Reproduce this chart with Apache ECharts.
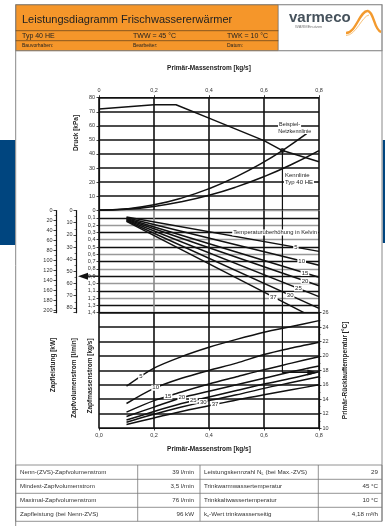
<!DOCTYPE html>
<html>
<head>
<meta charset="utf-8">
<script src="https://cdn.jsdelivr.net/npm/echarts@6/dist/echarts.min.js"></script>
<style>
  html, body { margin: 0; padding: 0; background: #fff; }
  #chart { width: 385px; height: 526px; }
</style>
</head>
<body>
<div id="chart"></div>
<script>
const FONT = '"Liberation Sans", Arial, sans-serif';
const INK = '#111';
const TXT = '#333';

// pressure diagram (kPa over primary mass flow)
const pumpX = [0, 0.2, 0.28, 0.4, 0.5, 0.6, 0.667, 0.8];
const pumpKPa = [72, 75, 75, 65.5, 57.5, 49.5, 42.4, 34.5];
const netzX = [0, 0.1, 0.2, 0.3, 0.4, 0.5, 0.6, 0.667, 0.755];
const netzKPa = [0, 1.0, 3.8, 8.6, 15.3, 23.9, 34.3, 42.4, 54.4];
const typX = [0, 0.1, 0.2, 0.3, 0.4, 0.5, 0.6, 0.7, 0.8];
const typKPa = [0, 0.7, 2.7, 6.0, 10.6, 16.6, 23.9, 32.5, 42.4];
const opPoint = [0.667, 42.4];

// temperature rise lines (tap mass flow kg/s)
const riseKelvin = ['5', '10', '15', '20', '25', '30', '37'];
const riseStartX = [0.1, 0.1, 0.1, 0.1, 0.1, 0.1, 0.1];
const riseStartY = [0.09, 0.10, 0.11, 0.12, 0.13, 0.14, 0.15];
const riseEndX = [0.8, 0.8, 0.8, 0.8, 0.8, 0.8, 0.745];
const riseEndY = [0.56, 0.75, 0.915, 1.03, 1.18, 1.34, 1.40];
const riseLabelX = [0.716, 0.737, 0.749, 0.749, 0.725, 0.695, 0.634];

// primary return temperature (°C)
const retX = [0.1, 0.2, 0.3, 0.4, 0.5, 0.6, 0.7, 0.8];
const ret5 = [15.8, 18.3, 19.9, 21.2, 22.3, 23.3, 24.1, 24.9];
const ret10 = [13.4, 15.5, 16.9, 18.0, 19.0, 20.2, 21.1, 21.9];
const ret15 = [12.2, 13.8, 15.0, 16.1, 17.1, 18.1, 19.0, 19.9];
const ret20 = [11.6, 12.9, 14.2, 15.1, 16.0, 16.9, 17.8, 18.6];
const ret25 = [11.1, 12.3, 13.4, 14.3, 15.2, 16.1, 16.9, 17.8];
const ret30 = [10.8, 11.9, 12.9, 13.8, 14.6, 15.5, 16.3, 17.1];
const ret37 = [10.5, 11.4, 12.3, 13.1, 13.9, 14.6, 15.3, 16.0];
const retLines = [ret5, ret10, ret15, ret20, ret25, ret30, ret37];
const retLabelX = [0.152, 0.206, 0.251, 0.301, 0.343, 0.379, 0.422];
const readFlow = 0.9;
const readReturn = 17.7;

// table
const tabLeftLabel = ['Nenn-(ZVS)-Zapfvolumenstrom', 'Mindest-Zapfvolumenstrom', 'Maximal-Zapfvolumenstrom', 'Zapfleistung (bei Nenn-ZVS)'];
const tabLeftValue = ['39 l/min', '3,5 l/min', '76 l/min', '96 kW'];
const tabRightLabel = ['Leistungskennzahl N{sub|L} (bei Max.-ZVS)', 'Trinkwarmwassertemperatur', 'Trinkkaltwassertemperatur', 'k{sub|v}-Wert trinkwasserseitig'];
const tabRightValue = ['29', '45 °C', '10 °C', '4,18 m³/h'];

const comma = v => v.toFixed(1).replace('.', ',');
const pair = (xs, ys) => xs.map((x, i) => [x, ys[i]]);
function yAt(xs, ys, x) {
  for (let i = 1; i < xs.length; i++) {
    if (x <= xs[i]) {
      const t = (x - xs[i - 1]) / (xs[i] - xs[i - 1]);
      return ys[i - 1] + t * (ys[i] - ys[i - 1]);
    }
  }
  return ys[ys.length - 1];
}

const chart = echarts.init(document.getElementById('chart'));

const lbl = { color: TXT, fontSize: 5.5, fontFamily: FONT };
const tick = { show: true, inside: false, length: 2.5, lineStyle: { color: INK, width: 0.8 } };
const minor = { show: true, splitNumber: 2, length: 1.5, lineStyle: { color: INK, width: 0.6 } };
const axLine = { show: true, onZero: false, lineStyle: { color: INK, width: 1.2 } };

function xAx(gridIndex, extra) {
  return Object.assign({
    type: 'value', gridIndex, min: 0, max: 0.8, interval: 0.2,
    axisLine: axLine, axisTick: { show: false }, axisLabel: { show: false },
    splitLine: { show: true, showMinLine: true, showMaxLine: true, lineStyle: { color: INK, width: 1.6 } }
  }, extra);
}

const markLabel = (text, coord) => ({
  symbol: 'rect', symbolSize: 1, silent: true, animation: false,
  itemStyle: { color: 'rgba(0,0,0,0)' },
  label: { show: true, position: 'inside', formatter: text, color: '#222', fontSize: 6, fontFamily: FONT, backgroundColor: '#fff', padding: [0, 1] },
  data: [{ coord }]
});

const base = { type: 'line', symbol: 'none', silent: true, animation: false, lineStyle: { color: INK, width: 1.5 } };
const series = [
  { ...base, xAxisIndex: 0, yAxisIndex: 0, data: pair(pumpX, pumpKPa) },
  { ...base, xAxisIndex: 0, yAxisIndex: 0, smooth: true, data: pair(netzX, netzKPa) },
  { ...base, xAxisIndex: 0, yAxisIndex: 0, smooth: true, data: pair(typX, typKPa) },
  { type: 'scatter', xAxisIndex: 0, yAxisIndex: 0, data: [opPoint], symbolSize: 5, itemStyle: { color: INK }, silent: true, animation: false, z: 5 },
  { ...base, xAxisIndex: 0, yAxisIndex: 0, lineStyle: { color: INK, width: 1.2 }, data: [opPoint, [opPoint[0], 0]] },
  { ...base, xAxisIndex: 1, yAxisIndex: 1, lineStyle: { color: INK, width: 1.2 }, data: [[opPoint[0], 0], [opPoint[0], 1.4]] },
  { ...base, xAxisIndex: 2, yAxisIndex: 4, symbol: 'circle', symbolSize: 0, showSymbol: true, lineStyle: { color: INK, width: 1.2 },
    data: [[opPoint[0], 26], [opPoint[0], readReturn],
      { value: [0.776, readReturn], symbol: 'triangle', symbolSize: [6, 10], symbolRotate: -90, itemStyle: { color: INK } }] }
];

riseKelvin.forEach((k, i) => {
  const xs = [riseStartX[i], riseEndX[i]];
  const ys = [riseStartY[i], riseEndY[i]];
  series.push({ ...base, xAxisIndex: 1, yAxisIndex: 1, data: pair(xs, ys),
    markPoint: markLabel(k, [riseLabelX[i], yAt(xs, ys, riseLabelX[i])]) });
  series.push({ ...base, xAxisIndex: 2, yAxisIndex: 4, smooth: 0.3, data: pair(retX, retLines[i]),
    markPoint: markLabel(k, [retLabelX[i], yAt(retX, retLines[i], retLabelX[i])]) });
});

chart.setOption({
  animation: false,
  backgroundColor: '#fff',
  textStyle: { fontFamily: FONT },
  grid: [
    { left: 99, width: 220, top: 97.7, height: 112.5, outerBoundsMode: 'none' },
    { left: 99, width: 220, top: 210.5, height: 102.2, outerBoundsMode: 'none' },
    { left: 99, width: 220, top: 312.7, height: 115.3, outerBoundsMode: 'none' }
  ],
  xAxis: [
    xAx(0, { position: 'top', axisTick: tick,
      axisLabel: { ...lbl, margin: 4, formatter: v => v === 0 ? '0' : comma(v) },
      name: 'Primär-Massenstrom [kg/s]', nameLocation: 'middle', nameGap: 26,
      nameTextStyle: { color: '#222', fontSize: 6.5, fontWeight: 'bold', fontFamily: FONT } }),
    xAx(1, { splitLine: { show: true, showMinLine: true, showMaxLine: true, lineStyle: { color: [INK, '#888', INK, INK, INK], width: 1.6 } } }),
    xAx(2, { position: 'bottom', axisTick: tick,
      axisLabel: { ...lbl, margin: 4, formatter: v => comma(v) },
      name: 'Primär-Massenstrom [kg/s]', nameLocation: 'middle', nameGap: 18,
      nameTextStyle: { color: '#222', fontSize: 6.5, fontWeight: 'bold', fontFamily: FONT } })
  ],
  yAxis: [
    { type: 'value', gridIndex: 0, min: 0, max: 80, interval: 10, axisLine: axLine, axisTick: tick,
      axisLabel: { ...lbl, margin: 4, showMinLabel: false },
      splitLine: { show: true, showMinLine: true, showMaxLine: true, lineStyle: { color: INK, width: 1.6 } } },
    { type: 'value', gridIndex: 1, min: 0, max: 1.4, interval: 0.1, inverse: true, axisLine: axLine, axisTick: tick,
      axisLabel: { ...lbl, margin: 3.5, formatter: v => v === 0 ? '0' : comma(v) },
      splitLine: { show: true, showMinLine: true, showMaxLine: true, lineStyle: { color: ['#999', INK], width: 1.4 } } },
    { type: 'value', gridIndex: 1, position: 'left', offset: 23, min: 0, max: 84, interval: 10, inverse: true,
      axisLine: axLine, axisTick: tick, minorTick: minor, splitLine: { show: false },
      axisLabel: { ...lbl, margin: 3.5, formatter: v => v % 10 === 0 ? String(v) : '' } },
    { type: 'value', gridIndex: 1, position: 'left', offset: 43, min: 0, max: 205, interval: 20, inverse: true,
      axisLine: axLine, axisTick: tick, minorTick: minor, splitLine: { show: false },
      axisLabel: { ...lbl, margin: 3.5, formatter: v => v % 20 === 0 ? String(v) : '' } },
    { type: 'value', gridIndex: 2, position: 'right', min: 10, max: 26, interval: 2,
      axisLine: axLine, axisTick: tick, minorTick: minor,
      axisLabel: { ...lbl, margin: 3.5 },
      splitLine: { show: true, showMinLine: true, showMaxLine: true, lineStyle: { color: INK, width: 1.5 } },
      name: 'Primär-Rücklauftemperatur [°C]', nameLocation: 'middle', nameGap: 23, nameRotate: 90,
      nameTextStyle: { color: '#222', fontSize: 6.5, fontWeight: 'bold', fontFamily: FONT } }
  ],
  series
});

// annotations and page furniture
const rot = (text, x, y) => ({ type: 'text', x, y, rotation: Math.PI / 2, z: 50,
  style: { text, x: 0, y: 0, align: 'center', verticalAlign: 'middle', fill: '#222', font: 'bold 6.5px ' + FONT } });
const txt = (text, x, y, size, extra) => ({ type: 'text', z: 60,
  style: Object.assign({ text, x, y, verticalAlign: 'middle', fill: '#222', font: size + 'px ' + FONT }, extra || {}) });
const hline = (x1, x2, y, color, w) => ({ type: 'line', z: 40, shape: { x1, y1: y, x2, y2: y }, style: { stroke: color, lineWidth: w } });
const vline = (x, y1, y2, color, w) => ({ type: 'line', z: 40, shape: { x1: x, y1, x2: x, y2 }, style: { stroke: color, lineWidth: w } });
const curve = (x1, y1, cpx1, cpy1, cpx2, cpy2, x2, y2, color, w) => ({ type: 'bezierCurve', z: 60,
  shape: { x1, y1, cpx1, cpy1, cpx2, cpy2, x2, y2 }, style: { fill: 'none', stroke: color, lineWidth: w } });

const arrowY = chart.convertToPixel({ yAxisIndex: 1 }, readFlow);
const axisX = chart.convertToPixel({ xAxisIndex: 1 }, 0);
const tempLabel = chart.convertToPixel({ xAxisIndex: 1, yAxisIndex: 1 }, [0.8, 0.3]);

const g = [
  // page frame
  vline(15.7, 4.7, 526, '#888', 1),
  vline(382, 4.7, 521.3, '#888', 1),
  hline(15.7, 382.5, 4.7, '#888', 0.8),
  hline(15.7, 382.5, 50.7, '#888', 0.8),
  { type: 'rect', z: 30, shape: { x: 0, y: 140, width: 15.2, height: 105 }, style: { fill: '#00457f' } },
  { type: 'rect', z: 30, shape: { x: 382.7, y: 140, width: 3, height: 103 }, style: { fill: '#00457f' } },
  // header
  { type: 'rect', z: 30, shape: { x: 15.7, y: 4.7, width: 262.6, height: 46 }, style: { fill: '#f5962a', stroke: '#6a4a20', lineWidth: 0.7 } },
  hline(15.7, 278.3, 30.7, '#5a3e1a', 0.7),
  hline(15.7, 278.3, 40.7, '#5a3e1a', 0.7),
  txt('Leistungsdiagramm Frischwassererwärmer', 22, 19.5, 11),
  txt('Typ 40 HE', 22, 36, 7), txt('TWW = 45 °C', 133, 36, 7), txt('TWK = 10 °C', 227, 36, 7),
  txt('Bauvorhaben:', 22, 46, 5), txt('Bearbeiter:', 133, 46, 5), txt('Datum:', 227, 46, 5),
  { type: 'rect', z: 30, shape: { x: 278.3, y: 4.7, width: 103.7, height: 46 }, style: { fill: '#fff', stroke: '#888', lineWidth: 0.7 } },
  txt('varmeco', 289, 17.5, 15, { fill: '#46525c', font: 'bold 15px ' + FONT }),
  txt('WÄRMEnutzen', 295, 26.7, 4, { fill: '#777' }),
  curve(346, 33, 356, 33, 360, 10, 368, 11, '#f39a2e', 2.4),
  curve(368, 11, 374, 12, 374, 30, 381, 32, '#f39a2e', 2.4),
  curve(346, 35.5, 356, 35.5, 362, 16, 369, 15, '#f8c27a', 1),
  // axis titles
  rot('Druck [kPa]', 76, 133),
  rot('Zapfleistung [kW]', 53, 365),
  rot('Zapfvolumenstrom [l/min]', 74, 378),
  rot('Zapfmassenstrom [kg/s]', 90, 376),
  // pressure chart notes
  txt('Beispiel-', 278, 124.3, 5.5, { backgroundColor: '#fff', padding: [0, 1] }),
  txt('Netzkennlinie', 277.3, 131, 5.5, { backgroundColor: '#fff', padding: [0, 1] }),
  txt('Kennlinie', 284, 175.7, 6, { backgroundColor: '#fff', padding: [0, 1] }),
  txt('Typ 40 HE', 284, 181.9, 6, { backgroundColor: '#fff', padding: [0, 1] }),
  txt('Temperaturüberhöhung in Kelvin', tempLabel[0] - 1, tempLabel[1], 5.8, { align: 'right', backgroundColor: '#fff', padding: [0, 1] }),
  // reading arrow to left scales
  hline(84, axisX, arrowY, INK, 1.3),
  { type: 'polygon', z: 61, shape: { points: [[78, arrowY], [88, arrowY - 3.5], [88, arrowY + 3.5]] }, style: { fill: INK } }
];

// table
const rowsY = [465, 479.3, 493.3, 507.3, 521.3];
const colsX = [15.7, 137.7, 200, 318.3, 382];
rowsY.forEach(y => g.push(hline(colsX[0], colsX[4], y, '#777', 0.8)));
colsX.forEach(x => g.push(vline(x, rowsY[0], rowsY[4], '#777', 0.8)));
const rich = { sub: { fontSize: 4, fontFamily: FONT, fill: TXT, verticalAlign: 'bottom', padding: [3, 0, 0, 0] } };
tabLeftLabel.forEach((t, i) => {
  const y = (rowsY[i] + rowsY[i + 1]) / 2;
  g.push(txt(t, 20, y, 6.2, { fill: TXT }));
  g.push(txt(tabLeftValue[i], 194, y, 6.2, { fill: TXT, align: 'right' }));
  g.push(txt(tabRightLabel[i], 204, y, 6.2, { fill: TXT, rich }));
  g.push(txt(tabRightValue[i], 378, y, 6.2, { fill: TXT, align: 'right' }));
});

chart.setOption({ graphic: g });
</script>
</body>
</html>
